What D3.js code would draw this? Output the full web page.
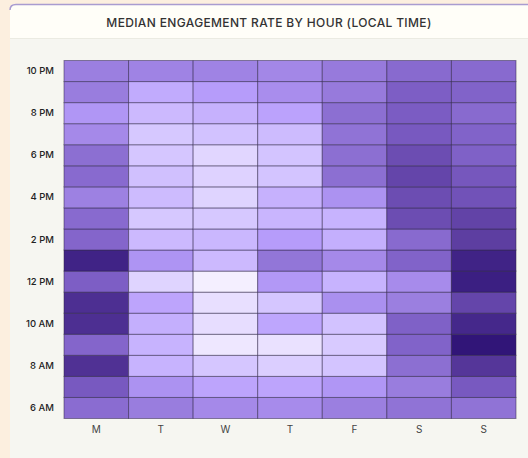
<!DOCTYPE html>
<html>
<head>
<meta charset="utf-8">
<script src="https://cdn.jsdelivr.net/npm/d3@7"></script>
<style>
  html, body { margin: 0; padding: 0; background: #fcefdf; }
  #chart { width: 528px; height: 458px; }
  text { font-family: Inter, "Noto Sans", sans-serif; }
</style>
</head>
<body>
<div id="chart"></div>
<script>
// days across, hours down (6 AM .. 10 PM)
const days = ['M', 'T', 'W', 'T', 'F', 'S', 'S'];
const hours = [6, 7, 8, 9, 10, 11, 12, 13, 14, 15, 16, 17, 18, 19, 20, 21, 22];
const hourTicks = [6, 8, 10, 12, 14, 16, 18, 20, 22];

// median engagement rate (%) per hour, 6 AM -> 10 PM
const mon = [6.3, 7.1, 8.7, 6.6, 8.8, 8.8, 6.9, 9.3, 6.6, 6.4, 5.4, 6.4, 6.2, 5.0, 4.4, 5.6, 5.5];
const tue = [5.6, 4.6, 3.0, 3.0, 3.2, 3.7, 1.4, 4.5, 2.7, 2.0, 2.6, 2.4, 2.1, 2.0, 2.7, 3.4, 5.3];
const wed = [5.0, 3.7, 2.1, 0.4, 0.9, 0.8, 0.0, 2.7, 2.8, 2.0, 1.4, 1.5, 1.3, 2.3, 3.1, 4.1, 5.3];
const thu = [4.9, 3.7, 1.7, 0.7, 3.6, 2.1, 4.3, 5.9, 4.1, 2.9, 3.1, 2.2, 2.2, 2.6, 3.8, 4.8, 5.1];
const fri = [5.5, 4.4, 2.2, 1.9, 2.3, 4.7, 3.0, 5.0, 3.2, 3.0, 4.6, 6.2, 6.2, 6.0, 6.2, 5.7, 5.7];
const sat = [6.0, 5.6, 6.2, 6.7, 6.8, 5.5, 4.9, 6.7, 6.4, 7.6, 7.6, 7.9, 7.6, 7.1, 7.0, 6.9, 6.4];
const sun = [6.0, 7.1, 8.5, 9.9, 9.1, 7.9, 9.5, 9.3, 8.2, 8.0, 7.4, 7.2, 6.8, 6.7, 6.4, 6.7, 6.4];
const series = [mon, tue, wed, thu, fri, sat, sun];

const colorStops = ['#f4efff', '#d6c8ff', '#b89efc', '#9b7fe0', '#7b5cc3', '#553699', '#2e1376'];
const stopAt = [0, 0.2, 0.4, 0.55, 0.7, 0.85, 1];

function hourLabel(h) {
  const suffix = h < 12 ? 'AM' : 'PM';
  const hh = h % 12 === 0 ? 12 : h % 12;
  return hh + ' ' + suffix;
}

class HeatmapChart {
  constructor(id) {
    this.width = 528;
    this.height = 458;
    this.svg = d3.select('#' + id).append('svg')
      .attr('width', this.width)
      .attr('height', this.height);
    this.margin = { left: 64, right: 12, top: 60.5, bottom: 418.5 };
  }

  drawCard() {
    const svg = this.svg;
    // card body
    svg.append('path')
      .attr('d', 'M10,10 Q10,4 16,4 L528,4 L528,458 L10,458 Z')
      .attr('fill', '#f6f6f1');
    // header
    svg.append('path')
      .attr('d', 'M10,10 Q10,4 16,4 L528,4 L528,38 L10,38 Z')
      .attr('fill', '#fffef8');
    svg.append('line')
      .attr('x1', 10).attr('x2', 528).attr('y1', 38.5).attr('y2', 38.5)
      .attr('stroke', '#ebebe2');
    // top accent border
    svg.append('path')
      .attr('d', 'M10,10 Q10,4.5 16,4.5 L528,4.5')
      .attr('fill', 'none')
      .attr('stroke', '#a99cd0')
      .attr('stroke-width', 1.5);

    svg.append('text')
      .attr('x', 269)
      .attr('y', 26.5)
      .attr('text-anchor', 'middle')
      .attr('font-family', 'Roboto, sans-serif')
      .attr('font-size', 12)
      .attr('font-weight', 500)
      .attr('letter-spacing', 0.35)
      .attr('fill', '#333')
      .text('MEDIAN ENGAGEMENT RATE BY HOUR (LOCAL TIME)');
  }

  drawGrid() {
    const m = this.margin;
    const x = d3.scaleBand()
      .domain(d3.range(days.length))
      .range([m.left, this.width - m.right]);
    const y = d3.scaleBand()
      .domain(hours.slice().reverse())
      .range([m.top, m.bottom]);

    const color = d3.scaleLinear()
      .domain(stopAt.map(t => t * 10))
      .range(colorStops)
      .interpolate(d3.interpolateRgb)
      .clamp(true);

    const cells = [];
    series.forEach((vals, di) => {
      vals.forEach((v, hi) => cells.push({ day: di, hour: hours[hi], value: v }));
    });

    this.svg.append('g')
      .selectAll('rect')
      .data(cells)
      .join('rect')
      .attr('x', d => x(d.day))
      .attr('y', d => y(d.hour))
      .attr('width', x.bandwidth())
      .attr('height', y.bandwidth())
      .attr('fill', d => color(d.value))
      .attr('stroke', '#2b2245')
      .attr('stroke-opacity', 0.5)
      .attr('stroke-width', 1);

    // y axis
    const yAxis = this.svg.append('g')
      .attr('transform', `translate(${m.left - 10},0)`)
      .call(d3.axisLeft(y).tickValues(hourTicks).tickFormat(hourLabel).tickSize(0).tickPadding(0));
    yAxis.select('.domain').remove();
    yAxis.selectAll('text')
      .attr('font-family', 'Inter, sans-serif')
      .attr('font-size', 9.5)
      .attr('font-weight', 500)
      .attr('fill', '#222');

    // x axis
    const xAxis = this.svg.append('g')
      .attr('transform', `translate(0,${m.bottom + 7})`)
      .call(d3.axisBottom(x).tickFormat(i => days[i]).tickSize(0).tickPadding(0));
    xAxis.select('.domain').remove();
    xAxis.selectAll('text')
      .attr('font-family', 'Inter, sans-serif')
      .attr('font-size', 10)
      .attr('fill', '#444');
  }
}

const chart = new HeatmapChart('chart');
chart.drawCard();
chart.drawGrid();
</script>
</body>
</html>
